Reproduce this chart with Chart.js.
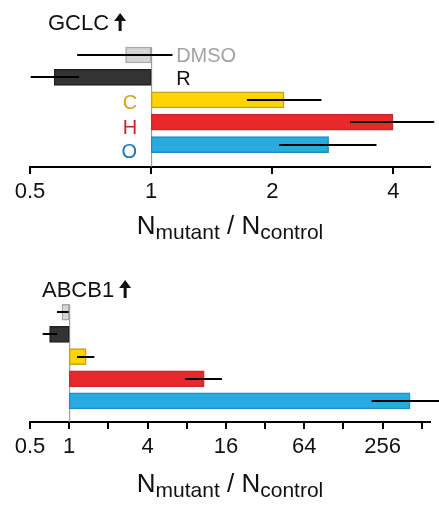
<!DOCTYPE html>
<html lang="en">
<head>
  <meta charset="UTF-8" />
  <title>GCLC / ABCB1 fold change</title>
  <script src="https://cdn.jsdelivr.net/npm/chart.js"></script>
  <style>
    * { margin: 0; padding: 0; box-sizing: border-box; }
    body { background: #fff; width: 439px; height: 506px; overflow: hidden; position: relative; }
    canvas { position: absolute; left: 0; }
    #gclc { top: 0; }
    #abcb1 { top: 251px; }
  </style>
</head>
<body>
  <canvas id="gclc" width="439" height="251"></canvas>
  <canvas id="abcb1" width="439" height="255"></canvas>

  <script>
    // Conditions (rows, top to bottom)
    const conditions = ['DMSO', 'R', 'C', 'H', 'O'];

    // GCLC: N_mutant / N_control, bar value and error bar ends
    const gclcValues = [0.864, 0.574, 2.14, 3.99, 2.76];
    const gclcLow = [0.655, 0.502, 1.73, 3.12, 2.08];
    const gclcHigh = [1.13, 0.662, 2.65, 5.05, 3.63];
    const gclcTicks = [0.5, 1, 2, 4];
    const gclcTickLabels = ['0.5', '1', '2', '4'];

    // ABCB1
    const abcb1Values = [0.88, 0.707, 1.35, 10.9, 416];
    const abcb1Low = [0.806, 0.625, 1.148, 7.8, 211];
    const abcb1High = [0.99, 0.81, 1.56, 14.9, 700];
    const abcb1Ticks = [0.5, 1, 2, 4, 8, 16, 32, 64, 128, 256, 512];
    const abcb1TickLabels = ['0.5', '1', '', '4', '', '16', '', '64', '', '256', ''];

    const barFill = ['#d6d6d6', '#333333', '#ffd400', '#e8292a', '#29abe2'];
    const barBorder = ['#a8a8a8', '#222222', '#c2a22a', '#bd3030', '#1f8cc2'];
    const labelColors = ['#a3a3a3', '#111111', '#d6a21f', '#c1272d', '#1b78b8'];

    const FONT = '"Liberation Sans", Arial, Helvetica, sans-serif';

    // draws title, x=1 reference line, error bars, row labels, axis title
    function extrasPlugin(opts) {
      return {
        id: 'extras',
        beforeDatasetsDraw(chart) {
          const ctx = chart.ctx;
          const x = chart.scales.x.getPixelForValue(1);
          const yTop = chart.scales.y.getPixelForValue(0) - 8;
          ctx.save();
          ctx.strokeStyle = '#8c8c8c';
          ctx.lineWidth = 1;
          ctx.beginPath();
          ctx.moveTo(x + 0.5, yTop);
          ctx.lineTo(x + 0.5, chart.chartArea.bottom);
          ctx.stroke();
          ctx.restore();
        },
        afterDatasetsDraw(chart) {
          const ctx = chart.ctx;
          const xs = chart.scales.x, ys = chart.scales.y;
          ctx.save();
          ctx.strokeStyle = '#000';
          ctx.lineWidth = 2;
          opts.low.forEach((lo, i) => {
            const y = Math.round(ys.getPixelForValue(i));
            ctx.beginPath();
            ctx.moveTo(xs.getPixelForValue(lo), y);
            ctx.lineTo(xs.getPixelForValue(opts.high[i]), y);
            ctx.stroke();
          });
          ctx.restore();
        },
        afterDraw(chart) {
          const ctx = chart.ctx;
          const xs = chart.scales.x, ys = chart.scales.y;
          const area = chart.chartArea;
          ctx.save();

          // title with arrow
          ctx.font = '22px ' + FONT;
          ctx.fillStyle = '#111';
          ctx.textBaseline = 'alphabetic';
          ctx.textAlign = 'left';
          ctx.fillText(opts.title, opts.titleX, opts.titleY);
          const ax = opts.titleX + ctx.measureText(opts.title).width + 11;
          const ay = opts.titleY;
          ctx.beginPath();
          ctx.moveTo(ax - 6, ay - 9);
          ctx.lineTo(ax, ay - 17);
          ctx.lineTo(ax + 6, ay - 9);
          ctx.closePath();
          ctx.fill();
          ctx.fillRect(ax - 1.5, ay - 10, 3, 11);

          // row labels
          if (opts.rowLabels) {
            const x1 = xs.getPixelForValue(1);
            ctx.font = '20px ' + FONT;
            ctx.textBaseline = 'middle';
            const shift = [1, 2, 4, 6, 8];
            conditions.forEach((c, i) => {
              const y = ys.getPixelForValue(i) + shift[i];
              ctx.fillStyle = labelColors[i];
              if (i < 2) {
                ctx.textAlign = 'left';
                ctx.fillText(c, x1 + 25, y);
              } else {
                ctx.textAlign = 'right';
                ctx.fillText(c, x1 - 14, y);
              }
            });
          }

          // axis title N_mutant / N_control
          const parts = [
            { t: 'N', f: 26, dy: 0 },
            { t: 'mutant', f: 21, dy: 5 },
            { t: ' / ', f: 26, dy: 0 },
            { t: 'N', f: 26, dy: 0 },
            { t: 'control', f: 21, dy: 5 }
          ];
          let total = 0;
          parts.forEach(p => { ctx.font = p.f + 'px ' + FONT; p.w = ctx.measureText(p.t).width; total += p.w; });
          let x = (area.left + area.right) / 2 - total / 2;
          const base = area.bottom + opts.axisTitleGap;
          ctx.fillStyle = '#111';
          ctx.textAlign = 'left';
          ctx.textBaseline = 'alphabetic';
          parts.forEach(p => {
            ctx.font = p.f + 'px ' + FONT;
            ctx.fillText(p.t, x, base + p.dy);
            x += p.w;
          });
          ctx.restore();
        }
      };
    }

    function makeChart(id, o) {
      const ctx = document.getElementById(id).getContext('2d');
      return new Chart(ctx, {
        type: 'bar',
        data: {
          datasets: [{
            data: o.values.map((v, i) => ({ x: [1, v], y: i })),
            backgroundColor: barFill,
            borderColor: barBorder,
            borderWidth: 1.5,
            borderSkipped: false,
            barThickness: 16
          }]
        },
        options: {
          indexAxis: 'y',
          responsive: false,
          devicePixelRatio: 1,
          animation: false,
          layout: { padding: { left: 30, right: 9, top: o.padTop, bottom: 0 } },
          plugins: { legend: { display: false }, tooltip: { enabled: false } },
          scales: {
            x: {
              type: 'logarithmic',
              bounds: 'data',
              min: 0.5,
              max: o.max,
              afterBuildTicks: (s) => { s.ticks = o.ticks.map(v => ({ value: v })); },
              afterFit: (s) => { s.height = 84; },
              ticks: {
                autoSkip: false,
                maxRotation: 0,
                padding: 5,
                color: '#111',
                font: { family: FONT, size: 22 },
                callback: (v) => { const k = o.ticks.indexOf(v); return k >= 0 ? o.tickLabels[k] : ''; }
              },
              grid: { drawOnChartArea: false, tickLength: 7, color: '#000', lineWidth: 2 },
              border: { display: true, color: '#000', width: 2 }
            },
            y: {
              type: 'linear',
              display: false,
              reverse: true,
              offset: false,
              bounds: 'data',
              min: -0.6,
              max: o.yMax,
              grid: { offset: false }
            }
          }
        },
        plugins: [extrasPlugin(o)]
      });
    }

    makeChart('gclc', {
      values: gclcValues, low: gclcLow, high: gclcHigh,
      ticks: gclcTicks, tickLabels: gclcTickLabels, max: 4.93,
      title: 'GCLC', titleX: 48, titleY: 30, rowLabels: true,
      padTop: 41.6, yMax: 5.0, axisTitleGap: 67
    });

    makeChart('abcb1', {
      values: abcb1Values, low: abcb1Low, high: abcb1High,
      ticks: abcb1Ticks, tickLabels: abcb1TickLabels, max: 592,
      title: 'ABCB1', titleX: 42, titleY: 46, rowLabels: false,
      padTop: 47.9, yMax: 4.95, axisTitleGap: 70
    });
  </script>
</body>
</html>
